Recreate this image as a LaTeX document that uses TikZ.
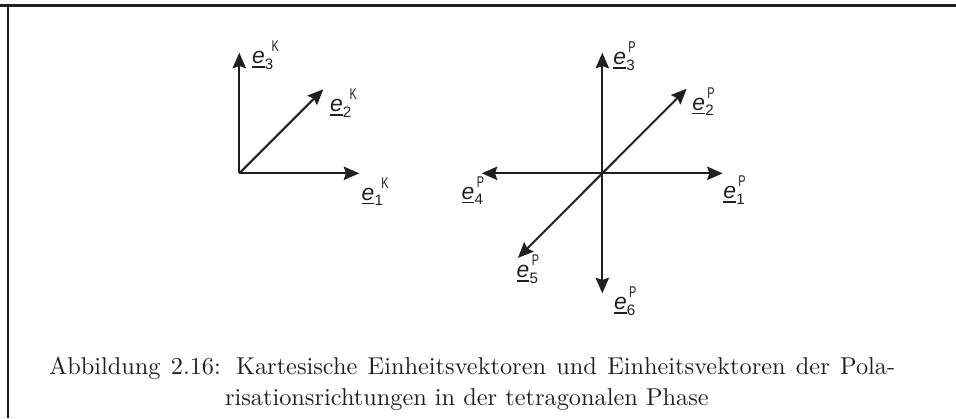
\documentclass[tikz,border=0pt]{standalone}
\usepackage{fontspec}
\usepackage{graphicx}
\usetikzlibrary{arrows.meta}
\newfontfamily\labfont{Liberation Sans}
\definecolor{ink}{HTML}{231F20}
\newcommand\evec[3][1pt]{%
  \setbox0\hbox{\fontsize{10.3pt}{10.3pt}\labfont\itshape e}%
  \rlap{\rule[-2pt]{\wd0}{0.8pt}}\box0
  \kern0.1pt\rlap{\raisebox{-2.6pt}{\fontsize{6.8pt}{6.8pt}\labfont #2}}%
  \kern#1\raisebox{5.4pt}{\fontsize{7pt}{7pt}\labfont\scalebox{0.7}[1]{#3}}}
\tikzset{
  vec/.style={draw=ink, line width=0.9pt, -{Stealth[length=7pt,width=6pt,inset=1pt]}},
  elab/.style={anchor=base west, inner sep=0pt, outer sep=0pt, text=ink},
  caplabel/.style={anchor=base west, inner sep=0pt, outer sep=0pt, text=ink,
    font=\fontsize{10.95pt}{13.6pt}\selectfont}
}
\begin{document}
\begin{tikzpicture}[x=0.45pt, y=-0.45pt]
\useasboundingbox (0,0) rectangle (956,418);
% frame
\draw[ink, line width=1.2pt] (0,5.3) -- (956,5.3);
\draw[ink, line width=0.9pt] (7.7,5.3) -- (7.7,418);
% left: Cartesian unit vectors
\coordinate (O1) at (239.3,173.3);
\coordinate (k1) at (359.3,173.3);
\coordinate (k2) at (323.3,89.3);
\coordinate (k3) at (239.3,52.7);
\draw[vec] (O1) -- (k1);
\draw[vec] (O1) -- (k2);
\draw[vec] (O1) -- (k3);
\node[elab] (lk3) at (252,63.5) {\evec[3pt]{3}{K}};
\node[elab] (lk2) at (330,111.5) {\evec[3pt]{2}{K}};
\node[elab] (lk1) at (361.7,200) {\evec[3pt]{1}{K}};
% right: polarisation directions
\coordinate (O2) at (602.3,173.3);
\coordinate (p1) at (722.7,173.3);
\coordinate (p2) at (686.7,88.7);
\coordinate (p3) at (602.3,52.7);
\coordinate (p4) at (481.7,173.3);
\coordinate (p5) at (517.9,257.9);
\coordinate (p6) at (602.3,293.3);
\foreach \t in {p1,p2,p3,p4,p5,p6} \draw[vec] (O2) -- (\t);
\node[elab] (lp3) at (613.3,64.3) {\evec{3}{P}};
\node[elab] (lp2) at (692.3,110) {\evec{2}{P}};
\node[elab] (lp1) at (723.3,198.5) {\evec{1}{P}};
\node[elab] (lp4) at (461.7,199) {\evec{4}{P}};
\node[elab] (lp5) at (516.7,277.7) {\evec{5}{P}};
\node[elab] (lp6) at (614,309.3) {\evec{6}{P}};
% caption
\node[caplabel] (cap1) at (49,374.3) {\hbox to 380.8pt{Abbildung 2.16: Kartesische Einheitsvektoren und Einheitsvektoren der Pola-}};
\node[caplabel] (cap2) at (225,405) {risationsrichtungen in der tetragonalen Phase};
\end{tikzpicture}
\end{document}
